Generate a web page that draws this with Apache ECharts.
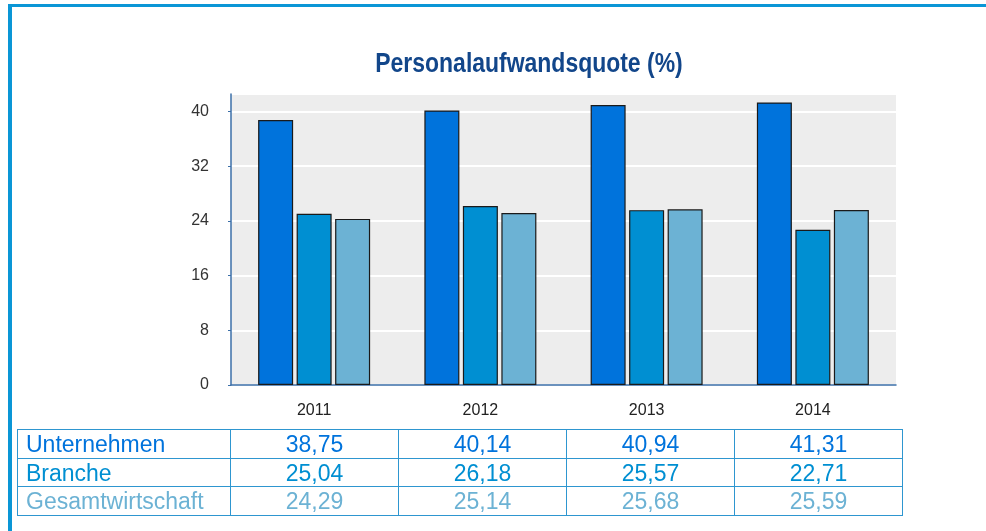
<!DOCTYPE html>
<html>
<head>
<meta charset="utf-8">
<script src="https://cdn.jsdelivr.net/npm/echarts@6/dist/echarts.min.js"></script>
<style>
  html, body { margin: 0; padding: 0; background: #fff; }
  #frame {
    position: absolute; left: 8px; top: 4px; width: 978px; height: 527px;
    border-top: 3px solid #0a96d6; border-left: 4px solid #0a96d6;
  }
  #chart { position: absolute; left: 0; top: 0; width: 986px; height: 531px; }
  #tbl {
    position: absolute; left: 17px; top: 429px;
    border-collapse: collapse;
    font-family: "Liberation Sans", Arial, sans-serif; font-size: 23px;
  }
  #tbl td {
    border: 1px solid #2e96d0; height: 27.7px; padding: 0; line-height: 26px;
    text-align: center; width: 167px;
  }
  #tbl td.name { text-align: left; padding-left: 8px; width: 204px; }
</style>
</head>
<body>
<div id="frame"></div>
<div id="chart"></div>
<table id="tbl"></table>
<script>
const years = ["2011", "2012", "2013", "2014"];
const seriesNames = ["Unternehmen", "Branche", "Gesamtwirtschaft"];
const unternehmen = [38.75, 40.14, 40.94, 41.31];
const branche = [25.04, 26.18, 25.57, 22.71];
const gesamtwirtschaft = [24.29, 25.14, 25.68, 25.59];
const colors = ["#0073dc", "#008fd2", "#6cb2d4"];

const allSeries = [unternehmen, branche, gesamtwirtschaft];

const chart = echarts.init(document.getElementById("chart"));
const option = {
  animation: false,
  // Titel als Grafik, damit er schmal gestaucht werden kann
  graphic: [{
    type: "text",
    x: 529, y: 50,
    scaleX: 0.82,
    style: {
      text: "Personalaufwandsquote (%)",
      align: "center",
      font: "bold 28px 'Liberation Sans', Arial, sans-serif",
      fill: "#12468a"
    }
  }],
  grid: { left: 231, right: 90, top: 94, bottom: 146, show: true, backgroundColor: "#ededed", borderWidth: 0 },
  xAxis: {
    type: "category",
    data: years,
    axisLine: { lineStyle: { color: "#3b6fa8", width: 1.5 } },
    axisTick: { inside: true, length: 5, lineStyle: { color: "#3b6fa8", width: 1.5 } },
    axisLabel: {
      margin: 18, color: "#222",
      fontFamily: "Liberation Sans, sans-serif", fontSize: 16
    }
  },
  yAxis: {
    type: "value",
    min: 0, max: 42.55, interval: 8,
    axisLine: { show: true, lineStyle: { color: "#3b6fa8", width: 1.5 } },
    axisTick: { show: true, length: 3, lineStyle: { color: "#3b6fa8" } },
    axisLabel: {
      margin: 22, color: "#333", showMaxLabel: false,
      fontFamily: "Liberation Sans, sans-serif", fontSize: 16
    },
    splitLine: { lineStyle: { color: "#fff", width: 2 } }
  },
  series: allSeries.map(function (vals, i) {
    return {
      name: seriesNames[i],
      type: "bar",
      data: vals,
      barWidth: 35,
      barGap: "10%",
      itemStyle: { color: colors[i], borderColor: "#1a1a1a", borderWidth: 1.2 }
    };
  })
};
chart.setOption(option);

// Datentabelle unter dem Diagramm
const tbl = document.getElementById("tbl");
allSeries.forEach(function (vals, i) {
  const tr = document.createElement("tr");
  tr.style.color = colors[i];
  const th = document.createElement("td");
  th.className = "name";
  th.textContent = seriesNames[i];
  tr.appendChild(th);
  vals.forEach(function (v) {
    const td = document.createElement("td");
    td.textContent = v.toFixed(2).replace(".", ",");
    tr.appendChild(td);
  });
  tbl.appendChild(tr);
});
</script>
</body>
</html>
